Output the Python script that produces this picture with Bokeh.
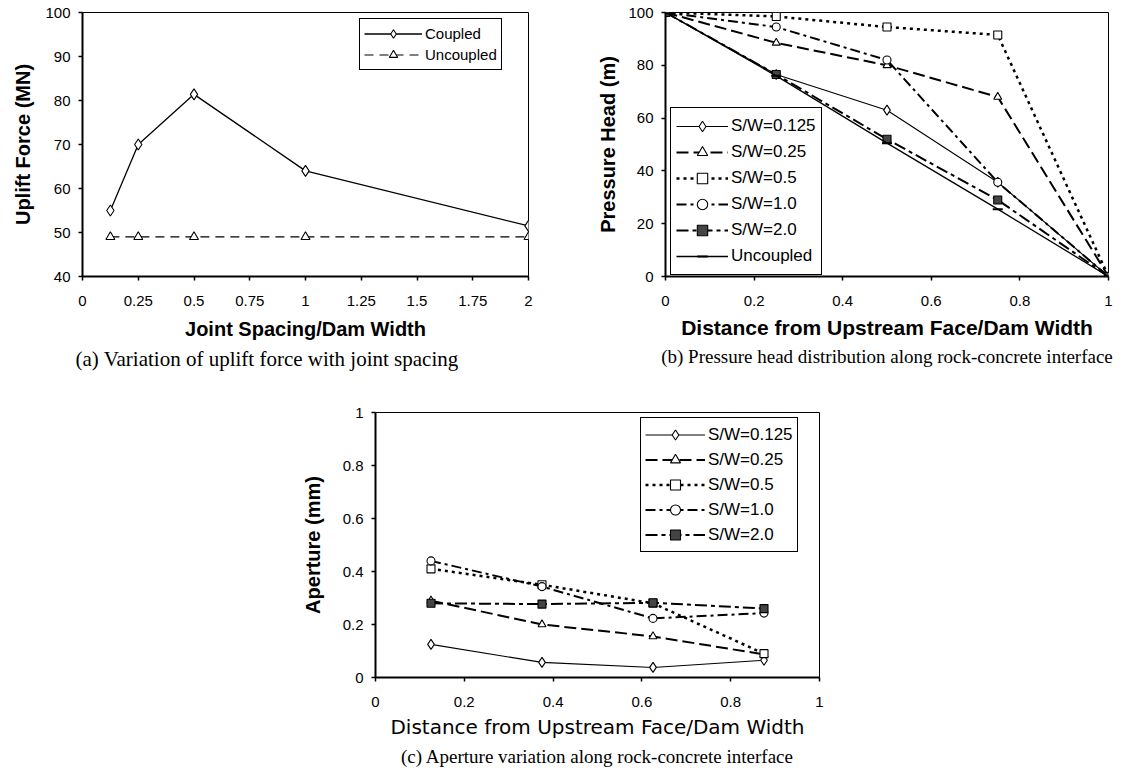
from bokeh.plotting import figure
from bokeh.models import FixedTicker, Range1d, Title
from bokeh.layouts import column, row
from bokeh.embed import file_html
from bokeh.resources import INLINE

# ---------------- data: panel (a) ----------------
spacing_ratio = [0.125, 0.25, 0.5, 1.0, 2.0]
uplift_coupled = [55.0, 70.0, 81.4, 64.0, 51.5]
uplift_uncoupled = [49.0, 49.0, 49.0, 49.0, 49.0]
a_xticks = [0, 0.25, 0.5, 0.75, 1, 1.25, 1.5, 1.75, 2]
a_xlabels = ["0", "0.25", "0.5", "0.75", "1", "1.25", "1.5", "1.75", "2"]
a_yticks = [40, 50, 60, 70, 80, 90, 100]
a_ylabels = ["40", "50", "60", "70", "80", "90", "100"]

# ---------------- data: panel (b) ----------------
distance_b = [0, 0.25, 0.5, 0.75, 1.0]
head_sw0125 = [100, 76.5, 63.0, 35.7, 0]
head_sw025 = [100, 88.5, 80.0, 68.0, 0]
head_sw05 = [100, 98.5, 94.5, 91.5, 0]
head_sw1 = [100, 94.5, 82.0, 35.7, 0]
head_sw2 = [100, 76.5, 52.0, 29.0, 0]
head_uncoupled = [100, 76.0, 50.5, 25.5, 0]
b_xticks = [0, 0.2, 0.4, 0.6, 0.8, 1]
b_xlabels = ["0", "0.2", "0.4", "0.6", "0.8", "1"]
b_yticks = [0, 20, 40, 60, 80, 100]
b_ylabels = ["0", "20", "40", "60", "80", "100"]

# ---------------- data: panel (c) ----------------
distance_c = [0.125, 0.375, 0.625, 0.875]
ap_sw0125 = [0.125, 0.057, 0.038, 0.065]
ap_sw025 = [0.29, 0.20, 0.155, 0.087]
ap_sw05 = [0.41, 0.35, 0.28, 0.09]
ap_sw1 = [0.44, 0.343, 0.223, 0.243]
ap_sw2 = [0.28, 0.277, 0.282, 0.26]
c_xticks = [0, 0.2, 0.4, 0.6, 0.8, 1]
c_xlabels = ["0", "0.2", "0.4", "0.6", "0.8", "1"]
c_yticks = [0, 0.2, 0.4, 0.6, 0.8, 1]
c_ylabels = ["0", "0.2", "0.4", "0.6", "0.8", "1"]

series_labels = ["S/W=0.125", "S/W=0.25", "S/W=0.5", "S/W=1.0", "S/W=2.0"]

SANS = "Liberation Sans"
SERIF = "Liberation Serif"


def style(p, xticks, xlabels, yticks, ylabels, xlab, ylab,
          xlab_font=SANS, xlab_style="bold", xlab_size="20px", ylab_standoff=8,
          xlab_standoff=9):
    p.xgrid.visible = False
    p.ygrid.visible = False
    p.outline_line_color = "black"
    p.outline_line_width = 1
    p.background_fill_color = "white"
    p.border_fill_color = "white"
    p.xaxis.ticker = FixedTicker(ticks=xticks)
    p.yaxis.ticker = FixedTicker(ticks=yticks)
    p.xaxis.major_label_overrides = dict(zip(xticks, xlabels))
    p.yaxis.major_label_overrides = dict(zip(yticks, ylabels))
    for ax in (p.xaxis[0], p.yaxis[0]):
        ax.axis_line_width = 2
        ax.axis_line_color = "black"
        ax.major_tick_line_width = 1.5
        ax.major_tick_line_color = "black"
        ax.major_tick_out = 4
        ax.major_tick_in = 0
        ax.minor_tick_line_color = None
        ax.major_label_text_font = SANS
        ax.major_label_text_font_size = "15px"
        ax.major_label_text_color = "black"
        ax.axis_label_text_color = "black"
    p.xaxis.major_label_standoff = 15
    p.yaxis.major_label_standoff = 8
    p.xaxis.axis_label = xlab
    p.xaxis.axis_label_text_font = xlab_font
    p.xaxis.axis_label_text_font_style = xlab_style
    p.xaxis.axis_label_text_font_size = xlab_size
    p.xaxis.axis_label_standoff = xlab_standoff
    p.yaxis.axis_label = ylab
    p.yaxis.axis_label_text_font = SANS
    p.yaxis.axis_label_text_font_style = "bold"
    p.yaxis.axis_label_text_font_size = "20px"
    p.yaxis.axis_label_standoff = ylab_standoff


def style_legend(p, loc, font_size, item_h, glyph_w, padding):
    lg = p.legend[0]
    lg.location = loc
    lg.border_line_color = "black"
    lg.border_line_width = 1.2
    lg.border_line_alpha = 1
    lg.background_fill_color = "white"
    lg.background_fill_alpha = 1
    lg.label_text_font = SANS
    lg.label_text_font_size = font_size
    lg.label_text_color = "black"
    lg.label_height = item_h
    lg.glyph_height = item_h
    lg.glyph_width = glyph_w
    lg.spacing = 0
    lg.padding = padding
    lg.label_standoff = 3
    lg.margin = 0


def caption(p, text, size, align="center", offset=0, standoff=4):
    t = Title(text=text, align=align, offset=offset, text_font=SERIF,
              text_font_size=size, text_font_style="normal",
              text_color="black", standoff=standoff)
    p.add_layout(t, "below")


# ---------------- panel (a) ----------------
fa = figure(width=538, height=372, x_range=Range1d(0, 2), y_range=Range1d(40, 100),
            output_backend="svg", toolbar_location=None,
            min_border_left=82, min_border_right=10, min_border_top=12, min_border_bottom=95)
style(fa, a_xticks, a_xlabels, a_yticks, a_ylabels,
      "Joint Spacing/Dam Width", "Uplift Force (MN)", ylab_standoff=8)
fa.line(spacing_ratio, uplift_coupled, line_color="black", line_width=1.3, legend_label="Coupled")
fa.scatter(spacing_ratio, uplift_coupled, marker="diamond", size=11, fill_color="white",
           line_color="black", line_width=1.1, legend_label="Coupled")
fa.line(spacing_ratio, uplift_uncoupled, line_color="black", line_width=1.2,
        line_dash="9 6", legend_label="Uncoupled")
fa.scatter(spacing_ratio, uplift_uncoupled, marker="triangle", size=9, fill_color="white",
           line_color="black", line_width=1.1, legend_label="Uncoupled")
style_legend(fa, (277, 206), "15px", 21, 58, 4)
caption(fa, "(a) Variation of uplift force with joint spacing", "21px", align="left", offset=-7)

# ---------------- panel (b) ----------------
fb = figure(width=577, height=372, x_range=Range1d(0, 1), y_range=Range1d(0, 100),
            output_backend="svg", toolbar_location=None,
            min_border_left=127, min_border_right=7, min_border_top=12, min_border_bottom=96)
style(fb, b_xticks, b_xlabels, b_yticks, b_ylabels,
      "Distance from Upstream Face/Dam Width", "Pressure Head (m)", ylab_standoff=6,
      xlab_size="21px", xlab_standoff=7)

b_series = [
    (head_sw0125, "solid", 1.1, "diamond", 10, "white"),
    (head_sw025, "12 5", 2.0, "triangle", 8, "white"),
    (head_sw05, "3 4", 2.5, "square", 8, "white"),
    (head_sw1, "10 4 3 4", 2.0, "circle", 8, "white"),
    (head_sw2, "12 4 4 4", 2.0, "square", 8, "#444444"),
]
for (vals, dash, lw, mk, ms, fill), lab in zip(b_series, series_labels):
    fb.line(distance_b, vals, line_color="black", line_width=lw, line_dash=dash, legend_label=lab)
    fb.scatter(distance_b, vals, marker=mk, size=ms, fill_color=fill, line_color="black",
               line_width=1.1, legend_label=lab)
fb.line(distance_b, head_uncoupled, line_color="black", line_width=1.3, legend_label="Uncoupled")
fb.scatter(distance_b, head_uncoupled, marker="dash", size=10, line_color="black",
           line_width=2, legend_label="Uncoupled")
style_legend(fb, (5, 1), "17px", 26, 52, 5)
caption(fb, "(b) Pressure head distribution along rock-concrete interface", "19px", standoff=5)

# ---------------- panel (c) ----------------
fc = figure(width=1115, height=400, x_range=Range1d(0, 1), y_range=Range1d(0, 1),
            output_backend="svg", toolbar_location=None,
            min_border_left=375, min_border_right=296, min_border_top=40, min_border_bottom=95)
style(fc, c_xticks, c_xlabels, c_yticks, c_ylabels,
      "Distance from Upstream Face/Dam Width", "Aperture (mm)",
      xlab_font="DejaVu Sans", xlab_style="normal", xlab_size="20px", ylab_standoff=16,
      xlab_standoff=5)
c_vals = [ap_sw0125, ap_sw025, ap_sw05, ap_sw1, ap_sw2]
for vals, (_, dash, lw, mk, ms, fill), lab in zip(c_vals, b_series, series_labels):
    fc.line(distance_c, vals, line_color="black", line_width=lw, line_dash=dash, legend_label=lab)
    fc.scatter(distance_c, vals, marker=mk, size=ms, fill_color=fill, line_color="black",
               line_width=1.1, legend_label=lab)
style_legend(fc, (265, 125), "17px", 25, 60, 4)
caption(fc, "(c) Aperture variation along rock-concrete interface", "19px", standoff=4)

layout = column(row(fa, fb), fc)
open("out.html", "w").write(file_html(layout, INLINE))
